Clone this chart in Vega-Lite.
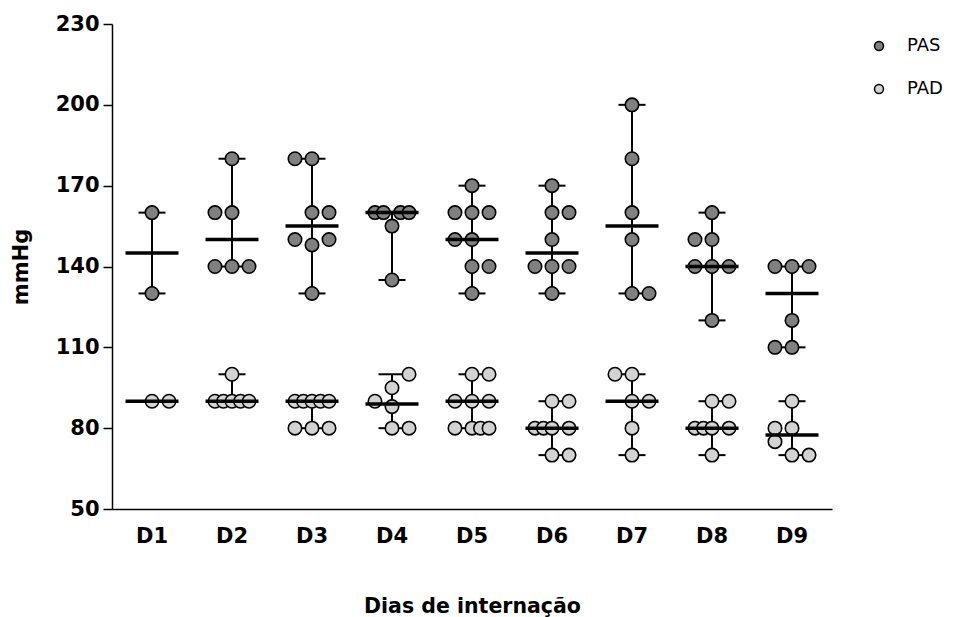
{
  "$schema": "https://vega.github.io/schema/vega-lite/v6.json",
  "width": 720,
  "height": 485,
  "autosize": {"type": "none"},
  "padding": {"left": 112, "top": 24, "right": 147, "bottom": 108},
  "background": "white",
  "config": {"view": {"stroke": null}, "font": "DejaVu Sans"},
  "data": {"values": [
    {"d":"D1","s":"PAS","v":160,"k":0},{"d":"D1","s":"PAS","v":130,"k":0},
    {"d":"D2","s":"PAS","v":180,"k":0},{"d":"D2","s":"PAS","v":160,"k":-2},{"d":"D2","s":"PAS","v":160,"k":0},{"d":"D2","s":"PAS","v":140,"k":-2},{"d":"D2","s":"PAS","v":140,"k":0},{"d":"D2","s":"PAS","v":140,"k":2},
    {"d":"D3","s":"PAS","v":180,"k":-2},{"d":"D3","s":"PAS","v":180,"k":0},{"d":"D3","s":"PAS","v":160,"k":0},{"d":"D3","s":"PAS","v":160,"k":2},{"d":"D3","s":"PAS","v":150,"k":-2},{"d":"D3","s":"PAS","v":150,"k":2},{"d":"D3","s":"PAS","v":148,"k":0},{"d":"D3","s":"PAS","v":130,"k":0},
    {"d":"D4","s":"PAS","v":160,"k":-2},{"d":"D4","s":"PAS","v":160,"k":-1},{"d":"D4","s":"PAS","v":160,"k":1},{"d":"D4","s":"PAS","v":160,"k":2},{"d":"D4","s":"PAS","v":155,"k":0},{"d":"D4","s":"PAS","v":135,"k":0},
    {"d":"D5","s":"PAS","v":170,"k":0},{"d":"D5","s":"PAS","v":160,"k":-2},{"d":"D5","s":"PAS","v":160,"k":0},{"d":"D5","s":"PAS","v":160,"k":2},{"d":"D5","s":"PAS","v":150,"k":-2},{"d":"D5","s":"PAS","v":150,"k":0},{"d":"D5","s":"PAS","v":140,"k":0},{"d":"D5","s":"PAS","v":140,"k":2},{"d":"D5","s":"PAS","v":130,"k":0},
    {"d":"D6","s":"PAS","v":170,"k":0},{"d":"D6","s":"PAS","v":160,"k":0},{"d":"D6","s":"PAS","v":160,"k":2},{"d":"D6","s":"PAS","v":150,"k":0},{"d":"D6","s":"PAS","v":140,"k":-2},{"d":"D6","s":"PAS","v":140,"k":0},{"d":"D6","s":"PAS","v":140,"k":2},{"d":"D6","s":"PAS","v":130,"k":0},
    {"d":"D7","s":"PAS","v":200,"k":0},{"d":"D7","s":"PAS","v":180,"k":0},{"d":"D7","s":"PAS","v":160,"k":0},{"d":"D7","s":"PAS","v":150,"k":0},{"d":"D7","s":"PAS","v":130,"k":0},{"d":"D7","s":"PAS","v":130,"k":2},
    {"d":"D8","s":"PAS","v":160,"k":0},{"d":"D8","s":"PAS","v":150,"k":-2},{"d":"D8","s":"PAS","v":150,"k":0},{"d":"D8","s":"PAS","v":140,"k":-2},{"d":"D8","s":"PAS","v":140,"k":0},{"d":"D8","s":"PAS","v":140,"k":2},{"d":"D8","s":"PAS","v":120,"k":0},
    {"d":"D9","s":"PAS","v":140,"k":-2},{"d":"D9","s":"PAS","v":140,"k":0},{"d":"D9","s":"PAS","v":140,"k":2},{"d":"D9","s":"PAS","v":120,"k":0},{"d":"D9","s":"PAS","v":110,"k":-2},{"d":"D9","s":"PAS","v":110,"k":0},
    {"d":"D1","s":"PAD","v":90,"k":0},{"d":"D1","s":"PAD","v":90,"k":2},
    {"d":"D2","s":"PAD","v":100,"k":0},{"d":"D2","s":"PAD","v":90,"k":-2},{"d":"D2","s":"PAD","v":90,"k":-1},{"d":"D2","s":"PAD","v":90,"k":0},{"d":"D2","s":"PAD","v":90,"k":1},{"d":"D2","s":"PAD","v":90,"k":2},
    {"d":"D3","s":"PAD","v":90,"k":-2},{"d":"D3","s":"PAD","v":90,"k":-1},{"d":"D3","s":"PAD","v":90,"k":0},{"d":"D3","s":"PAD","v":90,"k":1},{"d":"D3","s":"PAD","v":90,"k":2},{"d":"D3","s":"PAD","v":80,"k":-2},{"d":"D3","s":"PAD","v":80,"k":0},{"d":"D3","s":"PAD","v":80,"k":2},
    {"d":"D4","s":"PAD","v":100,"k":2},{"d":"D4","s":"PAD","v":95,"k":0},{"d":"D4","s":"PAD","v":90,"k":-2},{"d":"D4","s":"PAD","v":88,"k":0},{"d":"D4","s":"PAD","v":80,"k":0},{"d":"D4","s":"PAD","v":80,"k":2},
    {"d":"D5","s":"PAD","v":100,"k":0},{"d":"D5","s":"PAD","v":100,"k":2},{"d":"D5","s":"PAD","v":90,"k":-2},{"d":"D5","s":"PAD","v":90,"k":0},{"d":"D5","s":"PAD","v":90,"k":2},{"d":"D5","s":"PAD","v":80,"k":-2},{"d":"D5","s":"PAD","v":80,"k":0},{"d":"D5","s":"PAD","v":80,"k":1},{"d":"D5","s":"PAD","v":80,"k":2},
    {"d":"D6","s":"PAD","v":90,"k":0},{"d":"D6","s":"PAD","v":90,"k":2},{"d":"D6","s":"PAD","v":80,"k":-2},{"d":"D6","s":"PAD","v":80,"k":-1},{"d":"D6","s":"PAD","v":80,"k":0},{"d":"D6","s":"PAD","v":80,"k":2},{"d":"D6","s":"PAD","v":70,"k":0},{"d":"D6","s":"PAD","v":70,"k":2},
    {"d":"D7","s":"PAD","v":100,"k":-2},{"d":"D7","s":"PAD","v":100,"k":0},{"d":"D7","s":"PAD","v":90,"k":0},{"d":"D7","s":"PAD","v":90,"k":2},{"d":"D7","s":"PAD","v":80,"k":0},{"d":"D7","s":"PAD","v":70,"k":0},
    {"d":"D8","s":"PAD","v":90,"k":0},{"d":"D8","s":"PAD","v":90,"k":2},{"d":"D8","s":"PAD","v":80,"k":-2},{"d":"D8","s":"PAD","v":80,"k":-1},{"d":"D8","s":"PAD","v":80,"k":0},{"d":"D8","s":"PAD","v":80,"k":2},{"d":"D8","s":"PAD","v":70,"k":0},
    {"d":"D9","s":"PAD","v":90,"k":0},{"d":"D9","s":"PAD","v":80,"k":-2},{"d":"D9","s":"PAD","v":80,"k":0},{"d":"D9","s":"PAD","v":75,"k":-2},{"d":"D9","s":"PAD","v":70,"k":0},{"d":"D9","s":"PAD","v":70,"k":2}
  ]},
  "encoding": {
    "x": {"field": "d", "type": "nominal", "sort": ["D1","D2","D3","D4","D5","D6","D7","D8","D9"],
      "scale": {"paddingInner": 0, "paddingOuter": 0},
      "axis": {"title": "Dias de internação", "labelAngle": 0, "ticks": false, "domainColor": "black", "domainWidth": 1.5,
        "labelFontSize": 21, "labelFontWeight": "bold", "labelColor": "black", "labelPadding": 16,
        "titleFontSize": 20.5, "titleFontWeight": "bold", "titleColor": "black", "titlePadding": 50}}
  },
  "layer": [
    {
      "mark": {"type": "rule", "color": "black", "strokeWidth": 2},
      "encoding": {
        "y": {"aggregate": "min", "field": "v", "type": "quantitative", "title": "mmHg"},
        "y2": {"aggregate": "max", "field": "v"},
        "detail": {"field": "s"}
      }
    },
    {
      "mark": {"type": "tick", "color": "black", "thickness": 2, "size": 27},
      "encoding": {
        "y": {"aggregate": "min", "field": "v", "type": "quantitative", "title": "mmHg"},
        "detail": {"field": "s"}
      }
    },
    {
      "mark": {"type": "tick", "color": "black", "thickness": 2, "size": 27},
      "encoding": {
        "y": {"aggregate": "max", "field": "v", "type": "quantitative", "title": "mmHg"},
        "detail": {"field": "s"}
      }
    },
    {
      "mark": {"type": "point", "shape": "circle", "filled": true, "size": 180, "stroke": "black", "strokeWidth": 1.6, "opacity": 1},
      "encoding": {
        "y": {"field": "v", "type": "quantitative", "title": "mmHg",
          "scale": {"domain": [50, 230], "nice": false, "zero": false},
          "axis": {"values": [50, 80, 110, 140, 170, 200, 230], "grid": false, "domainColor": "black", "domainWidth": 1.5,
            "tickColor": "black", "tickWidth": 1.5, "tickSize": 9,
            "labelFontSize": 21, "labelFontWeight": "bold", "labelColor": "black", "labelPadding": 4,
            "titleFontSize": 21, "titleFontWeight": "bold", "titleColor": "black", "titlePadding": 24}},
        "xOffset": {"field": "k", "type": "quantitative", "scale": {"domain": [-4.7, 4.7], "range": [0, 80]}},
        "fill": {"field": "s", "type": "nominal", "scale": {"domain": ["PAS", "PAD"], "range": ["#808080", "#d3d3d3"]},
          "legend": {"title": null, "orient": "none", "legendX": 758, "legendY": 13, "labelFontSize": 18, "labelColor": "black",
            "symbolSize": 80, "symbolStrokeColor": "black", "symbolStrokeWidth": 1.5, "symbolType": "circle",
            "rowPadding": 25, "labelOffset": 19, "padding": 0}}
      }
    },
    {
      "mark": {"type": "tick", "color": "black", "thickness": 3.5, "size": 53},
      "encoding": {
        "y": {"aggregate": "median", "field": "v", "type": "quantitative", "title": "mmHg"},
        "detail": {"field": "s"}
      }
    }
  ]
}
